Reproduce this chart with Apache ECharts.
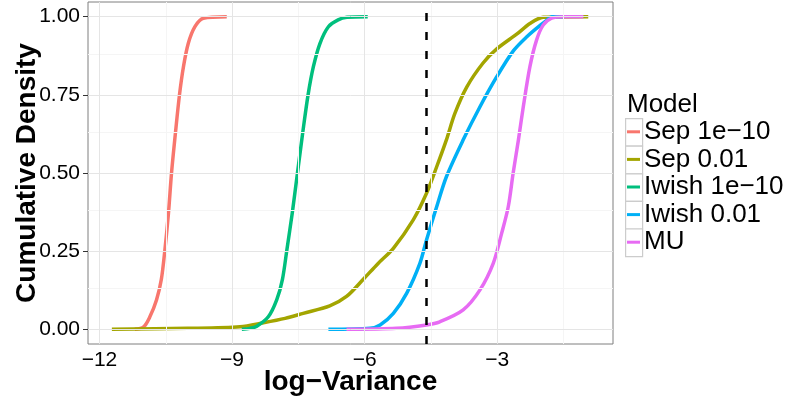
<!DOCTYPE html>
<html>
<head>
<meta charset="utf-8">
<script src="https://cdn.jsdelivr.net/npm/echarts@6/dist/echarts.min.js"></script>
<style>
  html, body { margin: 0; padding: 0; background: #fff; }
  #container { width: 796px; height: 400px; }
</style>
</head>
<body>
<div id="container"></div>
<script>
// model names (legend order)
var modelNames = ['Sep 1e\u221210', 'Sep 0.01', 'Iwish 1e\u221210', 'Iwish 0.01', 'MU'];
var modelColors = ['#F8766D', '#A3A500', '#00BF7D', '#00B0F6', '#E76BF3'];

var sepLow = [[-11.2, 0], [-11.0, 0.008], [-10.86, 0.04], [-10.71, 0.094], [-10.6, 0.16], [-10.52, 0.254],
    [-10.44, 0.37], [-10.37, 0.5], [-10.28, 0.63], [-10.19, 0.75], [-10.10, 0.84], [-9.99, 0.915],
    [-9.84, 0.968], [-9.65, 0.995], [-9.12, 1]];
var sepHigh = [[-11.72, 0], [-10.0, 0.003], [-8.82, 0.008], [-8.29, 0.021], [-7.8, 0.035], [-7.39, 0.051],
    [-6.79, 0.075], [-6.41, 0.105], [-6.03, 0.16], [-5.7, 0.21], [-5.35, 0.259], [-4.9, 0.35],
    [-4.6, 0.435], [-4.37, 0.52], [-4.15, 0.606], [-3.96, 0.69], [-3.69, 0.775], [-3.32, 0.852],
    [-3.01, 0.897], [-2.56, 0.944], [-2.26, 0.978], [-1.96, 0.998], [-0.94, 1]];
var iwishLow = [[-8.78, 0], [-8.6, 0.003], [-8.44, 0.01], [-8.18, 0.04], [-7.99, 0.094], [-7.86, 0.16],
    [-7.76, 0.254], [-7.64, 0.37], [-7.52, 0.5], [-7.40, 0.63], [-7.28, 0.75], [-7.16, 0.84],
    [-7.01, 0.915], [-6.82, 0.968], [-6.6, 0.99], [-6.4, 0.998], [-5.93, 1]];
var iwishHigh = [[-6.82, 0], [-5.88, 0.003], [-5.65, 0.014], [-5.35, 0.051], [-5.05, 0.115], [-4.75, 0.211],
    [-4.6, 0.286], [-4.37, 0.392], [-4.15, 0.488], [-3.77, 0.606], [-3.39, 0.712], [-3.01, 0.808],
    [-2.64, 0.89], [-2.33, 0.936], [-2.05, 0.97], [-1.88, 0.988], [-1.77, 1], [-1.51, 1]];
var muVals = [[-6.41, 0], [-5.28, 0.003], [-4.6, 0.014], [-4.3, 0.024], [-3.77, 0.062], [-3.39, 0.126],
    [-3.09, 0.211], [-2.9, 0.307], [-2.75, 0.392], [-2.64, 0.499], [-2.52, 0.606], [-2.41, 0.712],
    [-2.26, 0.84], [-2.11, 0.925], [-1.96, 0.973], [-1.77, 0.995], [-1.51, 1], [-1.05, 1]];

// axes
var xTicks = [-12, -9, -6, -3];
var xMinor = [-10.5, -7.5, -4.5, -1.5];
var yTicks = [0, 0.25, 0.5, 0.75, 1];
var yMinor = [0.125, 0.375, 0.625, 0.875];
var cutoff = -4.6;

var allData = [sepLow, sepHigh, iwishLow, iwishHigh, muVals];

var dom = document.getElementById('container');
var myChart = echarts.init(dom);

var gridLines = [];
xMinor.forEach(function (v) { gridLines.push({ xAxis: v, lineStyle: { color: '#F5F5F5', width: 1, type: 'solid' } }); });
yMinor.forEach(function (v) { gridLines.push({ yAxis: v, lineStyle: { color: '#F5F5F5', width: 1, type: 'solid' } }); });
xTicks.forEach(function (v) { gridLines.push({ xAxis: v, lineStyle: { color: '#E5E5E5', width: 1, type: 'solid' } }); });
yTicks.forEach(function (v) { gridLines.push({ yAxis: v, lineStyle: { color: '#E5E5E5', width: 1, type: 'solid' } }); });

var series = [{
    name: 'grid',
    type: 'line',
    data: [],
    silent: true,
    z: 1,
    markLine: {
        silent: true,
        symbol: 'none',
        animation: false,
        label: { show: false },
        data: gridLines
    }
}];
modelNames.forEach(function (name, i) {
    series.push({
        name: name,
        type: 'line',
        data: allData[i],
        showSymbol: false,
        smooth: 0.3,
        z: 3,
        lineStyle: { width: 3.5, color: modelColors[i], join: 'round', cap: 'butt' },
        itemStyle: { color: modelColors[i] }
    });
});
series.push({
    name: 'cutoff',
    type: 'line',
    data: [],
    z: 5,
    markLine: {
        silent: true,
        symbol: 'none',
        animation: false,
        label: { show: false },
        lineStyle: { color: '#000', width: 2.5, type: [8, 11] },
        data: [{ xAxis: cutoff }]
    }
});

var keyBoxes = modelNames.map(function (n, i) {
    return {
        type: 'rect',
        left: 625,
        top: 118 + i * 27.6,
        shape: { width: 17, height: 27.6 },
        style: { fill: '#fff', stroke: '#CCCCCC', lineWidth: 1.2 },
        z: 0
    };
});

var option = {
    animation: false,
    title: {
        text: 'Model',
        left: 627,
        top: 92,
        padding: 0,
        textStyle: { fontFamily: 'Liberation Sans', fontSize: 26, fontWeight: 'normal', color: '#000' }
    },
    legend: {
        data: modelNames,
        orient: 'vertical',
        left: 627,
        top: 118,
        padding: 0,
        itemGap: 0,
        itemWidth: 13,
        itemHeight: 3,
        icon: 'rect',
        textStyle: { fontFamily: 'Liberation Sans', fontSize: 26, lineHeight: 27.6, color: '#000', padding: [0, 0, 0, -1] }
    },
    graphic: keyBoxes,
    grid: {
        left: 88,
        right: 183,
        top: 2,
        bottom: 56,
        outerBoundsMode: 'none',
        containLabel: false,
        show: true,
        borderColor: '#7F7F7F',
        borderWidth: 1,
        backgroundColor: '#fff'
    },
    xAxis: {
        type: 'value',
        min: -12.26,
        max: -0.38,
        name: 'log\u2212Variance',
        nameLocation: 'middle',
        nameGap: 24,
        nameMoveOverlap: false,
        nameTextStyle: { fontFamily: 'Liberation Sans', fontSize: 28, fontWeight: 'bold', color: '#000' },
        axisLine: { show: false },
        axisTick: { show: true, length: 5, customValues: xTicks, lineStyle: { color: '#333' } },
        axisLabel: {
            customValues: xTicks,
            margin: 6,
            fontFamily: 'Liberation Sans',
            fontSize: 21,
            color: '#000',
            formatter: function (v) { return String(v).replace('-', '\u2212'); }
        },
        splitLine: { show: false }
    },
    yAxis: {
        type: 'value',
        min: -0.047,
        max: 1.047,
        name: 'Cumulative Density',
        nameLocation: 'middle',
        nameGap: 47,
        nameMoveOverlap: false,
        nameTextStyle: { fontFamily: 'Liberation Sans', fontSize: 28, fontWeight: 'bold', color: '#000' },
        axisLine: { show: false },
        axisTick: { show: true, length: 5, customValues: yTicks, lineStyle: { color: '#333' } },
        axisLabel: {
            customValues: yTicks,
            margin: 8,
            fontFamily: 'Liberation Sans',
            fontSize: 21,
            color: '#000',
            formatter: function (v) { return v.toFixed(2); }
        },
        splitLine: { show: false }
    },
    series: series
};
myChart.setOption(option);
</script>
</body>
</html>
